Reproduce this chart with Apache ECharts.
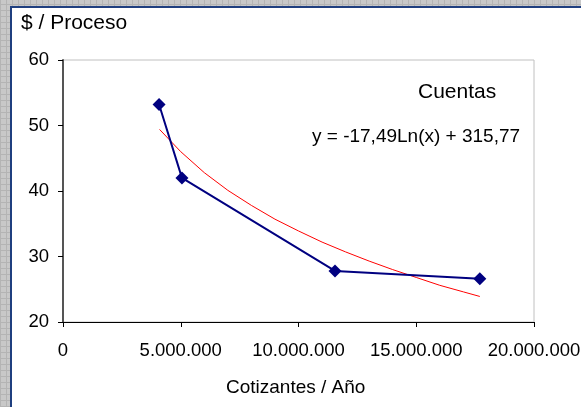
<!DOCTYPE html>
<html><head><meta charset="utf-8">
<script src="https://cdn.jsdelivr.net/npm/echarts@6/dist/echarts.min.js"></script>
<style>
html,body{margin:0;padding:0;width:581px;height:407px;overflow:hidden;}
body{background-color:#c8c8c8;background-image:repeating-linear-gradient(0deg,#b4b4b4 0 1px,transparent 1px 6px),repeating-linear-gradient(90deg,#b4b4b4 0 1px,transparent 1px 6px);position:relative;}
#panel{position:absolute;left:10px;top:6px;right:0;bottom:0;background:#fff;border-top:2px solid #1f3f7f;border-left:2px solid #1f3f7f;}
#main{position:absolute;left:0;top:0;width:581px;height:407px;}
</style></head>
<body>
<div id="panel"></div>
<div id="main"></div>
<script>
const xCotizantes = [4080000, 5050000, 11550000, 17700000];
const yCuentas = [53.2, 42.0, 27.8, 26.6];
const trendX = [4100000, 5000000, 6000000, 7000000, 8000000, 9000000, 10000000, 11000000, 12000000, 13000000, 14000000, 15000000, 16000000, 17000000, 17700000];
const trendY = [49.4, 46.0, 42.8, 40.1, 37.8, 35.7, 33.9, 32.2, 30.7, 29.3, 28.0, 26.8, 25.6, 24.6, 23.9];
const xTicks = [0, 5000000, 10000000, 15000000, 20000000];
const yTicks = [20, 30, 40, 50, 60];
const titleText = '$ / Proceso';
const xName = 'Cotizantes / Año';
const seriesName = 'Cuentas';
const eqText = 'y = -17,49Ln(x) + 315,77';

const font = 'Liberation Sans, Arial, sans-serif';
const chart = echarts.init(document.getElementById('main'), null, {renderer:'canvas'});
function fmt(v){ return String(Math.round(v)).replace(/\B(?=(\d{3})+(?!\d))/g,'.'); }
chart.setOption({
  backgroundColor:'transparent',
  animation:false,
  title:{text:titleText,left:16,top:8,textStyle:{fontFamily:font,fontSize:21,fontWeight:'normal',color:'#000'}},
  grid:{left:63,right:47,top:60,bottom:85,show:true,borderColor:'#c0c0c0',borderWidth:1,backgroundColor:'transparent',outerBoundsMode:'none',containLabel:false},
  graphic:[
    {type:'text',left:418,top:82,style:{text:seriesName,fontFamily:font,fontSize:21,fill:'#000'}},
    {type:'text',left:312,top:127,style:{text:eqText,fontFamily:font,fontSize:19,fill:'#000'}},
    {type:'text',left:226,top:378,style:{text:xName,fontFamily:font,fontSize:19,fill:'#000'}}
  ],
  xAxis:{type:'value',min:xTicks[0],max:xTicks[xTicks.length-1],interval:xTicks[1]-xTicks[0],
    splitLine:{show:false},
    axisLine:{onZero:false,lineStyle:{color:'#000',width:1}},
    axisTick:{show:true,length:5,lineStyle:{color:'#000'}},
    axisLabel:{formatter:fmt,fontFamily:font,fontSize:18.5,color:'#000',margin:19,showMaxLabel:true}},
  yAxis:{type:'value',min:yTicks[0],max:yTicks[yTicks.length-1],interval:yTicks[1]-yTicks[0],
    splitLine:{show:false},
    axisLine:{show:true,onZero:false,lineStyle:{color:'#555',width:2}},
    axisTick:{show:true,length:5,lineStyle:{color:'#000'}},
    axisLabel:{fontFamily:font,fontSize:18.5,color:'#000',margin:14}},
  series:[
    {type:'line',name:'trend',data:trendX.map((x,i)=>[x,trendY[i]]),showSymbol:false,symbol:'none',
     lineStyle:{color:'#ff0000',width:1},z:2},
    {type:'line',name:seriesName,data:xCotizantes.map((x,i)=>[x,yCuentas[i]]),symbol:'diamond',symbolSize:13,
     itemStyle:{color:'#000080'},lineStyle:{color:'#000080',width:2},z:3}
  ]
});
</script>
</body></html>
